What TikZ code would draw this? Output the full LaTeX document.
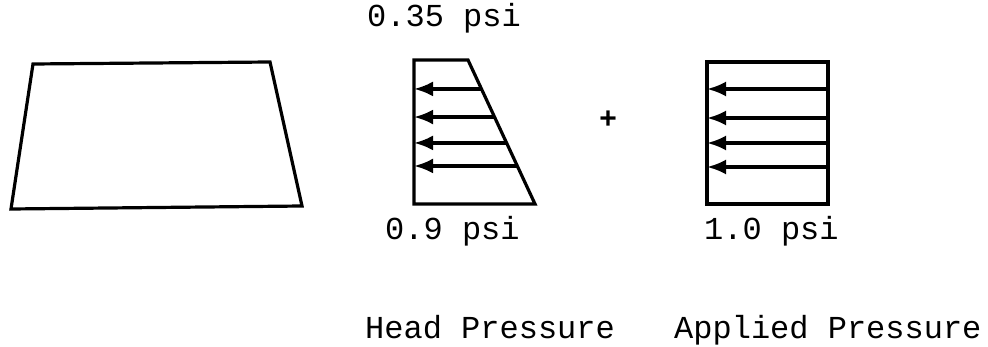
\documentclass[tikz,border=0pt]{standalone}
\usepackage{fontspec}
\setmainfont{Liberation Mono}
\usetikzlibrary{arrows.meta,calc}
\tikzset{
  edge/.style={line width=3.2pt, line join=miter, line cap=round},
  arr/.style={line width=3.2pt, -{Latex[length=19pt,width=15pt]}},
  lbl/.style={inner sep=0pt, anchor=base west, font=\fontsize{32}{38}\selectfont}
}
\begin{document}
\begin{tikzpicture}[x=1pt,y=-1pt]
\useasboundingbox (0,0) rectangle (988,347);
% trapezoid
\coordinate (tA) at (33,64);
\coordinate (tB) at (270,62);
\coordinate (tC) at (302,206);
\coordinate (tD) at (11,209);
\draw[edge] (tA) -- (tB) -- (tC) -- (tD) -- cycle;
% head pressure diagram
\coordinate (hTL) at (414,60);
\coordinate (hTR) at (468,60);
\coordinate (hBR) at (535,204);
\coordinate (hBL) at (414,204);
\draw[edge] (hTR) -- (hTL) -- (hBL) -- (hBR) -- cycle;
\foreach \f [count=\i] in {0.201,0.396,0.576,0.736}{
  \coordinate (hs\i) at ($(hTR)!\f!(hBR)$);
  \draw[arr] (hs\i) -- (hs\i -| hTL);
}
% applied pressure diagram
\coordinate (aTL) at (707,62);
\coordinate (aTR) at (828,62);
\coordinate (aBR) at (828,204);
\coordinate (aBL) at (707,204);
\draw[edge] (aTL) -- (aTR) -- (aBR) -- (aBL) -- cycle;
\foreach \yy [count=\i] in {89,118,143,167}{
  \coordinate (as\i) at (828,\yy);
  \draw[arr] (as\i) -- (as\i -| aTL);
}
% plus
\node[inner sep=0pt, font=\fontsize{30}{34}\selectfont\bfseries] (plus) at (608,120) {+};
% labels
\node[lbl] (ltop) at (367,27) {0.35 psi};
\node[lbl] (lhb) at (385,240) {0.9 psi};
\node[lbl] (lab) at (704,240) {1.0 psi};
\node[lbl] (lhead) at (365,338) {Head Pressure};
\node[lbl] (lapp) at (674,338) {Applied Pressure};
\end{tikzpicture}
\end{document}
